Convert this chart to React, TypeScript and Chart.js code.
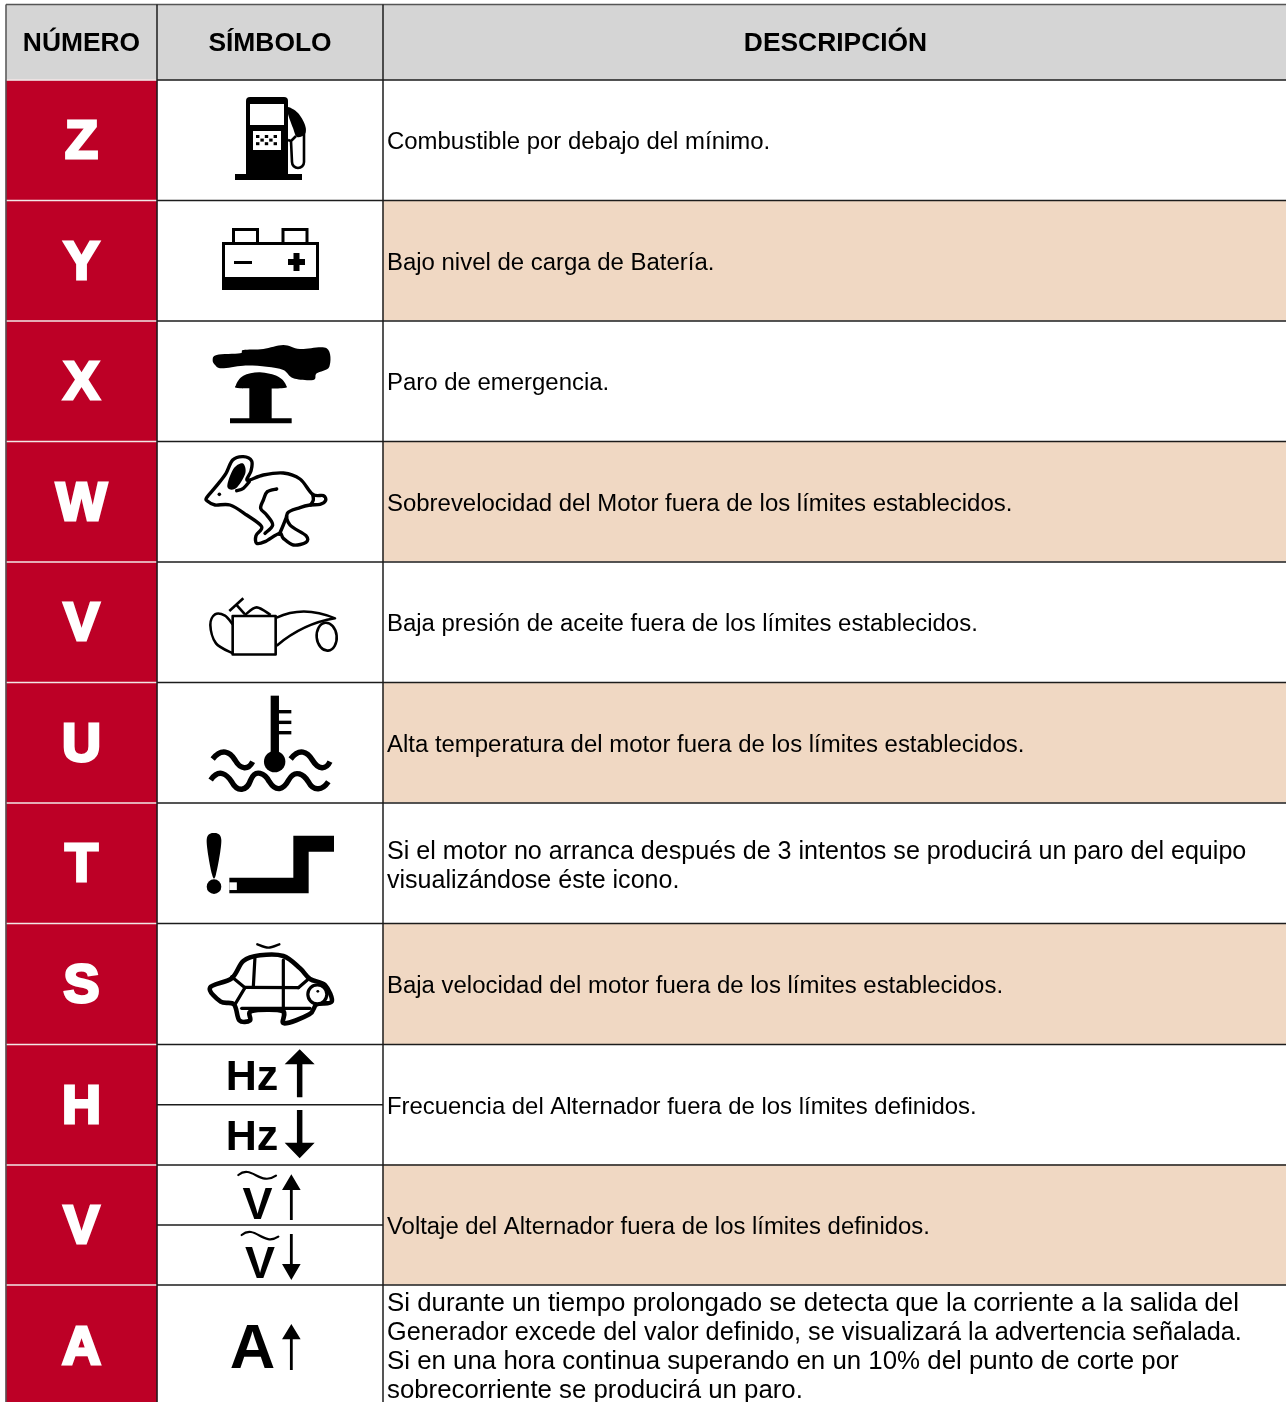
import React, { useEffect, useRef } from "react";
import { Chart, registerables } from "chart.js";

Chart.register(...registerables);

const headers = ["NÚMERO", "SÍMBOLO", "DESCRIPCIÓN"];
const codes = ["Z", "Y", "X", "W", "V", "U", "T", "S", "H", "V", "A"];
const descriptions: string[][] = [
  ["Combustible por debajo del mínimo."],
  ["Bajo nivel de carga de Batería."],
  ["Paro de emergencia."],
  ["Sobrevelocidad del Motor fuera de los límites establecidos."],
  ["Baja presión de aceite fuera de los límites establecidos."],
  ["Alta temperatura del motor fuera de los límites establecidos."],
  ["Si el motor no arranca después de 3 intentos se producirá un paro del equipo", "visualizándose éste icono."],
  ["Baja velocidad del motor fuera de los límites establecidos."],
  ["Frecuencia del Alternador fuera de los límites definidos."],
  ["Voltaje del Alternador fuera de los límites definidos."],
  [
    "Si durante un tiempo prolongado se detecta que la corriente a la salida del",
    "Generador excede del valor definido, se visualizará la advertencia señalada.",
    "Si en una hora continua superando en un 10% del punto de corte por",
    "sobrecorriente se producirá un paro.",
  ],
];
const descriptionSizes: number[][] = [[23.95], [23.95], [23.95], [23.95], [23.95], [23.95], [25.1, 25.05], [23.95], [23.9], [23.88], [25.85, 25.25, 25.85, 25.8]];
const shadedRows = [false, true, false, true, false, true, false, true, false, true, false];
const splitRows = [8, 9];

const columnEdges = [6, 157, 383, 1286];
const headerEdges = [4.5, 80];
const rowEdges = [80, 200.5, 321, 441.5, 562, 682.5, 803, 923.5, 1044.5, 1165, 1285, 1406];

const RED = "#BD0026";
const PEACH = "#F0D8C3";
const GREY = "#D5D5D5";
const WHITE = "#FFFFFF";
const INK = "#000000";
const RULE = "#1c1c1c";
const FONT = '"Liberation Sans", Arial, sans-serif';

const mid = (a: number, b: number) => (a + b) / 2;

type Ctx = CanvasRenderingContext2D;
const Z = (ox: number, oy: number) => (p: number[]) => [ox + p[0] / 3, oy + p[1] / 3];

function blob(ctx: Ctx, pts: number[][]) {
  const n = pts.length;
  ctx.beginPath();
  ctx.moveTo(pts[0][0], pts[0][1]);
  for (let i = 0; i < n; i++) {
    const p0 = pts[(i + n - 1) % n];
    const p1 = pts[i];
    const p2 = pts[(i + 1) % n];
    const p3 = pts[(i + 2) % n];
    ctx.bezierCurveTo(p1[0] + (p2[0] - p0[0]) / 6, p1[1] + (p2[1] - p0[1]) / 6, p2[0] - (p3[0] - p1[0]) / 6, p2[1] - (p3[1] - p1[1]) / 6, p2[0], p2[1]);
  }
  ctx.closePath();
}
function poly(ctx: Ctx, pts: number[][], close = true) {
  ctx.beginPath();
  pts.forEach((p, i) => (i ? ctx.lineTo(p[0], p[1]) : ctx.moveTo(p[0], p[1])));
  if (close) ctx.closePath();
}
function smooth(ctx: Ctx, pts: number[][]) {
  const n = pts.length;
  ctx.beginPath();
  ctx.moveTo(pts[0][0], pts[0][1]);
  for (let i = 0; i < n - 1; i++) {
    const p0 = pts[Math.max(i - 1, 0)];
    const p1 = pts[i];
    const p2 = pts[i + 1];
    const p3 = pts[Math.min(i + 2, n - 1)];
    ctx.bezierCurveTo(p1[0] + (p2[0] - p0[0]) / 6, p1[1] + (p2[1] - p0[1]) / 6, p2[0] - (p3[0] - p1[0]) / 6, p2[1] - (p3[1] - p1[1]) / 6, p2[0], p2[1]);
  }
}

function fuel(ctx: Ctx) {
  ctx.fillStyle = INK;
  ctx.beginPath();
  ctx.roundRect(246, 97, 42, 80, [4, 4, 0, 0]);
  ctx.fill();
  ctx.fillRect(235, 174, 67, 6);
  ctx.fillStyle = WHITE;
  ctx.fillRect(250, 104, 34, 21);
  ctx.fillRect(253, 131, 28, 19);
  ctx.fillStyle = INK;
  for (let r = 0; r < 3; r++)
    for (let c = 0; c < 5; c++)
      if ((r + c) % 2 === 0) ctx.fillRect(256 + c * 4.4, 135 + r * 3.6, 3.4, 3);
  blob(ctx, [[288, 107], [298, 113], [305, 125], [305, 134], [297, 137], [293, 128], [288, 114]]);
  ctx.fill();
  ctx.strokeStyle = INK;
  ctx.lineWidth = 2.6;
  ctx.beginPath();
  ctx.moveTo(296, 136);
  ctx.lineTo(291, 141);
  ctx.lineTo(292, 162);
  ctx.arc(298, 162, 6, Math.PI, 0, true);
  ctx.lineTo(304, 128);
  ctx.moveTo(288, 140);
  ctx.lineTo(291, 141);
  ctx.stroke();
}

function battery(ctx: Ctx) {
  ctx.strokeStyle = INK;
  ctx.fillStyle = INK;
  ctx.lineWidth = 3;
  ctx.strokeRect(223.5, 243.5, 94, 45);
  ctx.strokeRect(233.5, 229.5, 24, 14);
  ctx.strokeRect(283, 229.5, 24, 14);
  ctx.fillRect(223, 277, 96, 12);
  ctx.fillRect(234, 261, 18, 3);
  ctx.fillRect(288, 259, 17, 6);
  ctx.fillRect(293.5, 253, 6, 18);
}

function stopButton(ctx: Ctx) {
  const z = Z(150, 325);
  ctx.fillStyle = INK;
  blob(ctx, [[188, 105], [200, 90], [270, 85], [280, 75], [340, 72], [400, 60], [450, 72], [530, 70], [538, 125], [500, 145], [490, 165], [430, 160], [400, 135], [350, 125], [280, 122], [215, 130], [195, 120]].map(z));
  ctx.fill();
  blob(ctx, [[258, 180], [280, 152], [330, 142], [385, 155], [408, 180], [395, 190], [270, 190]].map(z));
  ctx.fill();
  poly(ctx, [[298, 185], [365, 185], [365, 280], [425, 280], [425, 295], [240, 295], [240, 280], [298, 280]].map(z));
  ctx.fill();
}

function rabbit(ctx: Ctx) {
  const z = Z(150, 325);
  ctx.strokeStyle = INK;
  ctx.fillStyle = INK;
  ctx.lineWidth = 3.4;
  ctx.lineJoin = "round";
  ctx.lineCap = "round";
  blob(ctx, [[170, 518], [200, 482], [228, 445], [248, 405], [280, 395], [305, 408], [303, 438], [292, 466], [340, 450], [400, 444], [450, 462], [488, 508], [520, 512], [527, 526], [510, 538], [480, 540], [450, 548], [412, 565], [420, 600], [468, 632], [468, 652], [430, 660], [400, 640], [388, 625], [345, 650], [320, 655], [318, 632], [335, 605], [290, 570], [240, 540], [195, 540], [172, 528]].map(z));
  ctx.stroke();
  blob(ctx, [[232, 485], [250, 432], [278, 415], [286, 445], [258, 490]].map(z));
  ctx.fill();
  smooth(ctx, [[260, 497], [280, 490], [298, 470]].map(z));
  ctx.stroke();
  smooth(ctx, [[380, 492], [352, 500], [340, 525], [332, 550], [350, 570], [368, 600], [345, 625]].map(z));
  ctx.stroke();
  smooth(ctx, [[410, 575], [400, 600], [388, 628]].map(z));
  ctx.stroke();
  smooth(ctx, [[482, 540], [490, 525], [488, 508]].map(z));
  ctx.stroke();
  const e = z([208, 508]);
  ctx.beginPath();
  ctx.arc(e[0], e[1], 1.8, 0, 7);
  ctx.fill();
}

function oilCan(ctx: Ctx) {
  const z = Z(150, 565);
  ctx.strokeStyle = INK;
  ctx.lineWidth = 2.6;
  ctx.lineJoin = "round";
  const r = z([248, 153]);
  ctx.strokeRect(r[0], r[1], 43, 38.5);
  smooth(ctx, [[248, 178], [225, 152], [195, 148], [181, 180], [198, 235], [248, 265]].map(z));
  ctx.stroke();
  smooth(ctx, [[285, 150], [320, 127], [362, 150]].map(z));
  ctx.stroke();
  ctx.beginPath();
  const a = z([380, 158]);
  const b = z([460, 120]);
  const c = z([555, 160]);
  const d = z([460, 175]);
  const f = z([380, 242]);
  ctx.moveTo(a[0], a[1]);
  ctx.quadraticCurveTo(b[0], b[1], c[0], c[1]);
  ctx.quadraticCurveTo(d[0], d[1], f[0], f[1]);
  ctx.stroke();
  const e = z([530, 215]);
  ctx.beginPath();
  ctx.ellipse(e[0], e[1], 10, 14, -0.1, 0, 7);
  ctx.stroke();
  poly(ctx, [[238, 138], [280, 100]].map(z), false);
  ctx.stroke();
  poly(ctx, [[258, 118], [285, 148]].map(z), false);
  ctx.stroke();
}

function wave(ctx: Ctx, pts: number[][]) {
  ctx.beginPath();
  ctx.moveTo(pts[0][0], pts[0][1]);
  for (let i = 1; i + 2 < pts.length; i += 3)
    ctx.bezierCurveTo(pts[i][0], pts[i][1], pts[i + 1][0], pts[i + 1][1], pts[i + 2][0], pts[i + 2][1]);
  ctx.stroke();
}

function coolant(ctx: Ctx) {
  const z = Z(150, 565);
  ctx.fillStyle = INK;
  ctx.strokeStyle = INK;
  const p = z([362, 392]);
  ctx.fillRect(p[0], p[1], 8.3, 62);
  const c = z([374, 590]);
  ctx.beginPath();
  ctx.arc(c[0], c[1], 10.7, 0, 7);
  ctx.fill();
  [435, 467, 498].forEach((y) => {
    const t = z([385, y]);
    ctx.fillRect(t[0], t[1], 13, 3.4);
  });
  ctx.lineWidth = 5.4;
  ctx.lineCap = "butt";
  wave(ctx, [[188, 582], [215, 548], [240, 560], [255, 585], [272, 615], [295, 615], [308, 590]].map(z));
  wave(ctx, [[422, 582], [448, 548], [472, 560], [487, 585], [505, 615], [528, 615], [540, 590]].map(z));
  wave(ctx, [[182, 645], [208, 608], [232, 630], [245, 650], [262, 682], [290, 680], [302, 645], [316, 610], [345, 625], [358, 650], [378, 682], [400, 675], [416, 645], [436, 610], [462, 630], [475, 650], [492, 682], [518, 675], [535, 650]].map(z));
}

function lowStart(ctx: Ctx) {
  const z = Z(150, 805);
  ctx.fillStyle = INK;
  blob(ctx, [[192, 84], [214, 105], [198, 208], [186, 208], [170, 105]].map(z));
  ctx.fill();
  const c = z([192, 245]);
  ctx.beginPath();
  ctx.arc(c[0], c[1], 7.3, 0, 7);
  ctx.fill();
  poly(ctx, [[238, 218], [430, 218], [430, 92], [552, 92], [552, 140], [476, 140], [476, 265], [238, 265]].map(z));
  ctx.fill();
  ctx.fillStyle = WHITE;
  const s = z([238, 232]);
  ctx.fillRect(s[0], s[1], 7.5, 7.7);
}

function turtle(ctx: Ctx) {
  const z = Z(150, 805);
  ctx.strokeStyle = INK;
  ctx.fillStyle = INK;
  ctx.lineWidth = 4.6;
  ctx.lineJoin = "round";
  ctx.lineCap = "round";
  blob(ctx, [[245, 520], [280, 468], [330, 451], [400, 453], [450, 490], [480, 522], [525, 540], [545, 590], [500, 598], [478, 628], [402, 655], [398, 618], [305, 618], [300, 646], [268, 646], [252, 598], [212, 590], [180, 548]].map(z));
  ctx.stroke();
  ctx.lineWidth = 3.2;
  const lines = [
    [[315, 455], [310, 545]],
    [[400, 465], [400, 655]],
    [[285, 547], [445, 548]],
    [[445, 548], [472, 525]],
    [[245, 515], [285, 548]],
    [[285, 548], [255, 598]],
    [[275, 610], [480, 610]],
  ];
  lines.forEach((l) => {
    poly(ctx, l.map(z), false);
    ctx.stroke();
  });
  const h = z([502, 568]);
  ctx.fillStyle = WHITE;
  ctx.beginPath();
  ctx.arc(h[0], h[1], 9.5, 0, 7);
  ctx.fill();
  ctx.stroke();
  ctx.fillStyle = INK;
  ctx.beginPath();
  ctx.arc(h[0] + 0.5, h[1] - 3, 1.4, 0, 7);
  ctx.fill();
  ctx.lineWidth = 2.4;
  smooth(ctx, [[322, 418], [355, 428], [388, 418]].map(z));
  ctx.stroke();
}

function arrow(ctx: Ctx, cx: number, tip: number, wingY: number, end: number, half: number, shaft: number) {
  const z = Z(150, 1040);
  const X = z([cx, 0])[0];
  const Y = (v: number) => z([0, v])[1];
  ctx.fillStyle = INK;
  poly(ctx, [[X, Y(tip)], [X + half, Y(wingY)], [X + shaft / 2, Y(wingY)], [X + shaft / 2, Y(end)], [X - shaft / 2, Y(end)], [X - shaft / 2, Y(wingY)], [X - half, Y(wingY)]]);
  ctx.fill();
}

function symbolText(ctx: Ctx, text: string, x: number, y: number, size: number) {
  ctx.fillStyle = INK;
  ctx.font = `bold ${size}px ${FONT}`;
  ctx.textAlign = "center";
  ctx.textBaseline = "alphabetic";
  ctx.fillText(text, x, y);
}

function lowerSymbols(ctx: Ctx) {
  const z = Z(150, 1040);
  symbolText(ctx, "Hz", 252, 1090, 43);
  arrow(ctx, 449, 28, 73, 172, 15, 5.5);
  symbolText(ctx, "Hz", 252, 1150, 43);
  arrow(ctx, 449, 355, 308, 210, 15, 5.5);
  symbolText(ctx, "V", 257.5, 1219, 45);
  arrow(ctx, 424, 403, 450, 540, 9.3, 2.8);
  symbolText(ctx, "V", 260, 1278, 45);
  arrow(ctx, 424, 720, 672, 582, 9.3, 2.8);
  ctx.strokeStyle = INK;
  ctx.lineWidth = 2.2;
  ctx.lineCap = "round";
  wave(ctx, [[265, 405], [305, 372], [330, 440], [378, 407]].map(z));
  wave(ctx, [[275, 585], [315, 552], [340, 620], [385, 590]].map(z));
  symbolText(ctx, "A", 252.5, 1368, 63);
  arrow(ctx, 424, 852, 898, 990, 9.3, 2.8);
}

const icons = [fuel, battery, stopButton, rabbit, oilCan, coolant, lowStart, turtle];

const tablePlugin = {
  id: "tableText",
  afterDatasetsDraw(chart: any) {
    const ctx: Ctx = chart.ctx;
    const xs = chart.scales.x;
    const ys = chart.scales.y;
    const px = (v: number) => xs.getPixelForValue(v);
    const py = (v: number) => ys.getPixelForValue(v);
    ctx.save();

    const hLine = (y: number, a: number, b: number, color: string, w: number) => {
      ctx.strokeStyle = color;
      ctx.lineWidth = w;
      ctx.beginPath();
      ctx.moveTo(px(a), py(y));
      ctx.lineTo(px(b), py(y));
      ctx.stroke();
    };
    const vLine = (x: number, a: number, b: number, color: string, w: number) => {
      ctx.strokeStyle = color;
      ctx.lineWidth = w;
      ctx.beginPath();
      ctx.moveTo(px(x), py(a));
      ctx.lineTo(px(x), py(b));
      ctx.stroke();
    };

    rowEdges.slice(0, -1).forEach((y) => {
      hLine(y, columnEdges[0], columnEdges[1], "#F3E6E6", 1.5);
      hLine(y, columnEdges[1], columnEdges[3], RULE, 1.5);
    });
    splitRows.forEach((r) => hLine(mid(rowEdges[r], rowEdges[r + 1]), columnEdges[1], columnEdges[2], RULE, 1.5));
    hLine(headerEdges[0], columnEdges[0], columnEdges[3], "#555555", 1.5);
    vLine(columnEdges[0], headerEdges[0], 1402, "#555555", 1.5);
    vLine(columnEdges[1], headerEdges[0], 1402, RULE, 1.5);
    vLine(columnEdges[2], headerEdges[0], 1402, RULE, 1.5);

    ctx.textBaseline = "alphabetic";
    ctx.textAlign = "center";
    ctx.fillStyle = INK;
    ctx.font = `bold 26.4px ${FONT}`;
    headers.forEach((h, i) => {
      ctx.fillText(h, px(mid(columnEdges[i], columnEdges[i + 1])) + (i === 2 ? 1 : 0), py(mid(headerEdges[0], headerEdges[1])) + 8.5);
    });

    codes.forEach((c, i) => {
      const cy = py(mid(rowEdges[i], rowEdges[i + 1]));
      ctx.font = `bold 54px ${FONT}`;
      ctx.textAlign = "center";
      ctx.fillStyle = WHITE;
      ctx.strokeStyle = WHITE;
      ctx.lineWidth = 3;
      ctx.lineJoin = "miter";
      ctx.strokeText(c, px(mid(columnEdges[0], columnEdges[1])), cy + 18);
      ctx.fillText(c, px(mid(columnEdges[0], columnEdges[1])), cy + 18);
    });

    ctx.textAlign = "left";
    ctx.fillStyle = INK;
    descriptions.forEach((lines, i) => {
      const cy = py(mid(rowEdges[i], rowEdges[i + 1]));
      const shift = lines.length > 2 ? 9.5 : lines.length > 1 ? 10 : 9;
      const top = cy + shift - ((lines.length - 1) * 29) / 2 - (lines.length > 2 ? 0.5 : 0);
      lines.forEach((t, j) => {
        ctx.font = `${descriptionSizes[i][j]}px ${FONT}`;
        ctx.fillText(t, px(columnEdges[2]) + 4, top + j * 29);
      });
    });
    ctx.restore();

    icons.forEach((draw) => {
      ctx.save();
      draw(ctx);
      ctx.restore();
    });
    ctx.save();
    lowerSymbols(ctx);
    ctx.restore();
  },
};

export default function App() {
  const ref = useRef<HTMLCanvasElement>(null);
  useEffect(() => {
    document.body.style.margin = "0";
    document.body.style.background = WHITE;
    const rows = codes.map((_, i) => mid(rowEdges[i], rowEdges[i + 1]));
    const chart = new Chart(ref.current!, {
      type: "bar",
      data: {
        datasets: [
          {
            label: "Cabecera",
            data: headers.map((_, i) => ({ x: [columnEdges[i], columnEdges[i + 1]], y: mid(headerEdges[0], headerEdges[1]) })),
            backgroundColor: GREY,
            barThickness: headerEdges[1] - headerEdges[0],
            grouped: false,
          },
          {
            label: "Número",
            data: rows.map((y) => ({ x: [columnEdges[0], columnEdges[1]], y })),
            backgroundColor: RED,
            barThickness: 120.9,
            grouped: false,
          },
          {
            label: "Descripción",
            data: rows.map((y) => ({ x: [columnEdges[2], columnEdges[3]], y })),
            backgroundColor: shadedRows.map((s) => (s ? PEACH : WHITE)),
            barThickness: 120.9,
            grouped: false,
          },
        ] as any,
      },
      options: {
        indexAxis: "y",
        animation: false,
        responsive: false,
        events: [],
        layout: { padding: 0 },
        plugins: { legend: { display: false }, tooltip: { enabled: false }, title: { display: false } },
        scales: {
          x: { type: "linear", min: 0, max: 1286, display: false, offset: false },
          y: { type: "linear", min: 0, max: 1402, reverse: true, display: false, offset: false },
        },
      } as any,
      plugins: [tablePlugin],
    });
    return () => chart.destroy();
  }, []);
  return (
    <div style={{ position: "absolute", left: 0, top: 0, width: 1286, height: 1402, overflow: "hidden" }}>
      <canvas ref={ref} width={1286} height={1402} style={{ display: "block", width: 1286, height: 1402 }} />
    </div>
  );
}
